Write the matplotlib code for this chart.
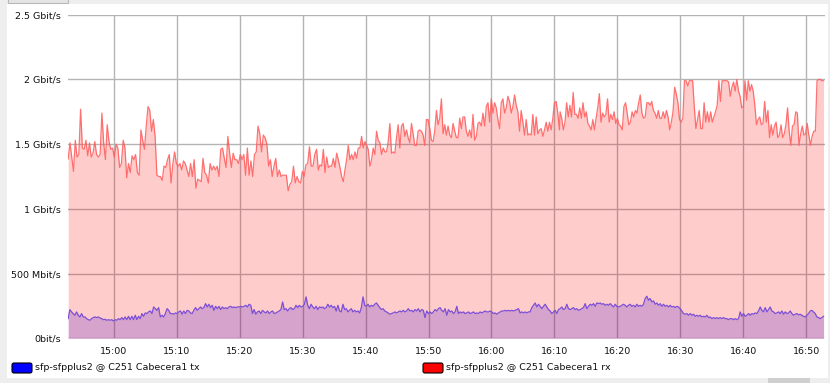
import numpy as np
import matplotlib
matplotlib.use('Agg')
from matplotlib import pyplot as plt
from matplotlib.patches import Rectangle, FancyBboxPatch

# rx (Gbit/s), sampled in three stretches
rx_a = [1.385, 1.51, 1.40, 1.29, 1.53, 1.40, 1.42, 1.77, 1.47, 1.46, 1.53, 1.41, 1.51, 1.40, 1.43, 1.52, 1.42, 1.40,
        1.42, 1.74, 1.51, 1.38, 1.65, 1.52, 1.46, 1.47, 1.40, 1.50, 1.47, 1.32, 1.35, 1.53, 1.47, 1.24, 1.35, 1.28,
        1.41, 1.38, 1.42, 1.28, 1.26, 1.61, 1.53, 1.46, 1.64, 1.79, 1.76, 1.60, 1.69, 1.56, 1.26, 1.25, 1.25, 1.22,
        1.33, 1.32, 1.38, 1.42, 1.20, 1.35, 1.44, 1.35, 1.33, 1.35, 1.30, 1.37, 1.35, 1.30, 1.25, 1.35, 1.25, 1.38,
        1.16, 1.23, 1.22, 1.21, 1.39, 1.28, 1.26, 1.20, 1.35, 1.30, 1.33, 1.30, 1.33, 1.25, 1.46, 1.47, 1.39, 1.32,
        1.56, 1.43, 1.32, 1.43, 1.38, 1.38, 1.35, 1.42, 1.38, 1.42, 1.26, 1.47, 1.26, 1.37, 1.25, 1.42, 1.44, 1.64,
        1.58, 1.44, 1.57, 1.55, 1.50, 1.33, 1.38, 1.25, 1.33, 1.39, 1.25, 1.30, 1.25, 1.26, 1.26, 1.26, 1.14, 1.19,
        1.21, 1.33, 1.20, 1.25, 1.21, 1.20, 1.29, 1.25, 1.34, 1.35, 1.48, 1.33, 1.33, 1.42, 1.46, 1.30]
rx_b = [1.34, 1.33, 1.46, 1.28, 1.40, 1.32, 1.33, 1.33, 1.39, 1.32, 1.43, 1.38, 1.32, 1.25, 1.21, 1.30, 1.38, 1.49,
        1.38, 1.42, 1.38, 1.44, 1.39, 1.47, 1.47, 1.56, 1.47, 1.52, 1.49, 1.46, 1.33, 1.38, 1.47, 1.42, 1.60, 1.53,
        1.51, 1.42, 1.47, 1.44, 1.44, 1.52, 1.66, 1.43, 1.44, 1.43, 1.55, 1.65, 1.47, 1.64, 1.66, 1.56, 1.61, 1.55,
        1.51, 1.66, 1.58, 1.49, 1.49, 1.60, 1.61, 1.60, 1.57, 1.49, 1.69, 1.69, 1.62, 1.53, 1.52, 1.60, 1.76, 1.65,
        1.70, 1.85, 1.58, 1.65, 1.57, 1.64, 1.57, 1.55, 1.66, 1.60, 1.55, 1.55, 1.70, 1.62, 1.71, 1.71, 1.60, 1.56,
        1.61, 1.55, 1.73, 1.53, 1.56, 1.66, 1.67, 1.64, 1.74, 1.64, 1.79, 1.82, 1.67, 1.85, 1.74, 1.82, 1.78, 1.69,
        1.62, 1.82, 1.85, 1.74, 1.78, 1.87, 1.83, 1.74, 1.79, 1.88, 1.80, 1.75, 1.60, 1.76, 1.67, 1.57, 1.69, 1.57,
        1.58, 1.57, 1.73, 1.57, 1.71, 1.58, 1.61, 1.62, 1.56, 1.61, 1.67, 1.60, 1.67, 1.61, 1.70, 1.82, 1.83, 1.74,
        1.61]
rx_c = [1.75, 1.70, 1.61, 1.67, 1.82, 1.71, 1.80, 1.71, 1.90, 1.73, 1.73, 1.70, 1.78, 1.70, 1.82, 1.71, 1.75, 1.66,
        1.64, 1.61, 1.69, 1.61, 1.70, 1.78, 1.89, 1.67, 1.74, 1.71, 1.73, 1.85, 1.67, 1.73, 1.69, 1.75, 1.66, 1.70,
        1.65, 1.64, 1.61, 1.79, 1.82, 1.74, 1.65, 1.67, 1.75, 1.71, 1.76, 1.74, 1.82, 1.88, 1.74, 1.70, 1.71, 1.82,
        1.82, 1.80, 1.83, 1.76, 1.74, 1.70, 1.76, 1.70, 1.70, 1.75, 1.70, 1.76, 1.71, 1.61, 1.67, 1.75, 1.94, 1.89,
        1.82, 1.69, 1.67, 1.70, 1.99, 1.99, 1.95, 1.99, 1.99, 1.99, 1.79, 1.62, 1.69, 1.76, 1.62, 1.62, 1.82, 1.67,
        1.75, 1.67, 1.75, 1.67, 1.71, 1.75, 1.80, 1.99, 1.83, 1.99, 1.99, 1.99, 1.99, 1.98, 1.87, 1.94, 1.98, 1.91,
        2.00, 1.91, 1.87, 1.78, 1.79, 1.99, 1.84, 1.99, 1.91, 1.96, 1.91, 1.80, 1.65, 1.69, 1.71, 1.65, 1.66, 1.83,
        1.67, 1.76, 1.55, 1.65, 1.57, 1.64, 1.67, 1.55, 1.57, 1.65, 1.55, 1.58, 1.65, 1.78, 1.60, 1.49, 1.64, 1.65,
        1.75, 1.74, 1.49, 1.58, 1.64, 1.57, 1.58, 1.66, 1.57, 1.49, 1.56, 1.60, 1.60, 1.99, 2.00, 2.00, 1.99, 1.99]

# tx (Mbit/s), two stretches
tx_a = [152, 222, 204, 191, 178, 204, 178, 165, 191, 165, 165, 152, 144, 139, 152, 160, 165, 160, 165, 157, 152, 144,
        147, 139, 144, 139, 144, 134, 144, 139, 152, 144, 160, 144, 165, 144, 170, 144, 170, 144, 178, 144, 170, 152,
        191, 170, 196, 191, 204, 211, 191, 242, 229, 216, 237, 165, 178, 165, 191, 229, 216, 191, 191, 186, 196, 191,
        204, 211, 186, 211, 191, 216, 211, 196, 191, 216, 237, 216, 229, 242, 229, 237, 268, 242, 263, 237, 255, 216,
        247, 229, 247, 222, 242, 229, 237, 229, 242, 247, 237, 242, 237, 242, 242, 247, 242, 247, 255, 242, 263, 255,
        191, 222, 186, 204, 211, 191, 216, 204, 196, 211, 191, 204, 211, 191, 196, 204, 211, 222, 281, 222, 229, 211,
        229, 237, 222, 229, 255, 237, 255, 242, 247, 263, 320, 255, 229, 263, 242, 229, 247, 222, 242, 237, 242, 229,
        237, 263, 242, 255, 237, 247, 211, 255, 211, 204, 263, 222, 229, 204, 216, 229, 204, 216, 204, 211, 196, 237,
        320, 255, 247, 263, 242, 255, 247, 263, 273, 255, 237, 222, 229, 211, 204, 196, 186, 191, 196, 204, 196, 204,
        211, 204, 216, 204, 211, 229, 211, 216, 204, 222, 211, 229, 204, 222, 216, 160, 211, 191, 204, 191, 204, 222,
        211, 229, 237]
tx_b = [216, 204, 229, 178, 222, 204, 211, 191, 204, 247, 191, 204, 196, 204, 191, 196, 204, 191, 196, 204, 191, 196,
        191, 204, 196, 204, 211, 204, 204, 211, 204, 191, 196, 186, 196, 204, 211, 211, 216, 211, 216, 211, 216, 211,
        216, 222, 229, 196, 204, 196, 204, 196, 204, 204, 237, 255, 273, 242, 263, 247, 229, 247, 263, 242, 222, 211,
        191, 204, 216, 191, 222, 229, 242, 222, 229, 263, 229, 222, 229, 237, 222, 229, 216, 222, 229, 237, 268, 229,
        247, 263, 255, 268, 247, 273, 268, 273, 263, 268, 255, 263, 255, 268, 255, 242, 263, 247, 242, 247, 255, 263,
        255, 242, 255, 263, 247, 255, 242, 263, 247, 255, 247, 263, 307, 325, 294, 307, 281, 289, 263, 273, 255, 268,
        247, 263, 247, 255, 242, 255, 242, 247, 237, 247, 242, 229, 211, 191, 186, 191, 178, 191, 178, 186, 170, 178,
        170, 178, 165, 170, 165, 178, 160, 165, 152, 160, 152, 160, 152, 160, 152, 160, 152, 152, 144, 152, 152, 144,
        152, 144, 152, 204, 170, 191, 170, 178, 191, 178, 191, 186, 196, 191, 211, 242, 216, 204, 237, 204, 222, 242,
        211, 204, 191, 196, 204, 191, 211, 186, 204, 191, 196, 211, 191, 178, 186, 191, 181, 186, 178, 170, 165, 178,
        191, 211, 216, 204, 191, 165, 160, 152, 160, 170]

# minutes after 14:00 covered by each stretch
rx_spans = [(52.73, 92.48), (92.75, 130.8), (130.9, 172.77)]
tx_spans = [(52.73, 111.83), (112.1, 172.77)]

tick_min = [60, 70, 80, 90, 100, 110, 120, 130, 140, 150, 160, 170]
tick_lbl = ['15:00', '15:10', '15:20', '15:30', '15:40', '15:50', '16:00', '16:10', '16:20', '16:30', '16:40', '16:50']
y_ticks = [0, 0.5, 1.0, 1.5, 2.0, 2.5]
y_lbl = ['0bit/s', '500 Mbit/s', '1 Gbit/s', '1.5 Gbit/s', '2 Gbit/s', '2.5 Gbit/s']

rx = np.concatenate([rx_a, rx_b, rx_c])
rx_t = np.concatenate([np.linspace(a, b, len(s)) for (a, b), s in zip(rx_spans, [rx_a, rx_b, rx_c])])
tx = np.concatenate([tx_a, tx_b]) / 1000.0
tx_t = np.concatenate([np.linspace(a, b, len(s)) for (a, b), s in zip(tx_spans, [tx_a, tx_b])])

fig = plt.figure(figsize=(8.3, 3.83), dpi=100, facecolor='#eeeeee')
# white panel and small bits of page chrome
fig.add_artist(Rectangle((7, 5), 821, 374, transform=None, facecolor='white', edgecolor='none', zorder=-5))
fig.add_artist(Rectangle((8, 380), 60, 6, transform=None, facecolor='#e4e4e4', edgecolor='#b8b8b8', lw=0.8, zorder=-4))
fig.add_artist(Rectangle((768, 0), 42, 5, transform=None, facecolor='#cfcfcf', edgecolor='none', zorder=-4))

ax = fig.add_axes([68 / 830, 44.7 / 383, 757 / 830, 323.6 / 383])
ax.set_facecolor('white')
ax.set_xlim(52.7, 173.0)
ax.set_ylim(0, 2.5)
ax.set_axisbelow(True)
ax.grid(True, color='#b4b4b4', lw=1.0)
for s in ax.spines.values():
    s.set_visible(False)

ax.fill_between(tx_t, 0, tx, color='blue', alpha=0.2, lw=0)
ax.fill_between(rx_t, 0, rx, color='red', alpha=0.2, lw=0)
ax.plot(rx_t, rx, color='#ff5a5a', lw=0.9, alpha=0.85)
ax.plot(tx_t, tx, color='#7b4fd6', lw=0.9)

ax.set_xticks(tick_min)
ax.set_xticklabels(tick_lbl)
ax.set_yticks(y_ticks)
ax.set_yticklabels(y_lbl)
ax.tick_params(length=0, labelsize=6.8, colors='#111111', pad=5)
ax.tick_params(axis='x', pad=6)

# legend at the bottom
for x0, col, txt in [(12, 'blue', 'sfp-sfpplus2 @ C251 Cabecera1 tx'), (423, 'red', 'sfp-sfpplus2 @ C251 Cabecera1 rx')]:
    fig.add_artist(FancyBboxPatch((x0 + 2, 12), 16, 6, boxstyle='round,pad=2', transform=None,
                                  facecolor=col, edgecolor='black', lw=0.8))
    fig.text((x0 + 23) / 830, 15 / 383, txt, fontsize=6.8, va='center', ha='left', color='#111111')

plt.savefig('out.png', dpi=100, facecolor=fig.get_facecolor())
